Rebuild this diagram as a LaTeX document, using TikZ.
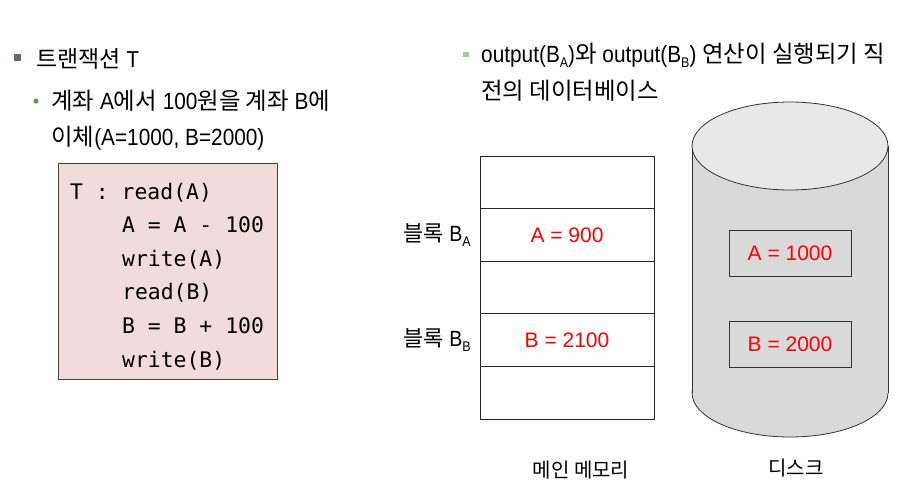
\documentclass[tikz,border=0pt]{standalone}
\usepackage{fontspec}
\setmainfont{Liberation Sans}
\newfontfamily\krfont{Noto Sans CJK KR}
\newfontfamily\mgfont[FakeStretch=0.89]{Liberation Sans}
\newfontfamily\codefont{DejaVu Sans Mono}
\usepackage{xcolor}
\usetikzlibrary{positioning}
\definecolor{codepink}{HTML}{F2DCDB}
\definecolor{bulletmauve}{HTML}{76606E}
\definecolor{bulletgreen}{HTML}{6B8E5A}
\definecolor{bulletmint}{HTML}{A8C8A0}
\definecolor{cylgray}{HTML}{D9D9D9}
\definecolor{cyltopgray}{HTML}{E8E8E8}
\newcommand\lowsub[1]{\raisebox{-0.2em}{\fontsize{14}{14}\selectfont #1}}
\tikzset{
  txt/.style     = {anchor=base west, inner sep=0pt, font=\mgfont\fontsize{23.4}{28}\selectfont},
  titletxt/.style= {anchor=base west, inner sep=0pt, font=\mgfont\fontsize{23}{28}\selectfont},
  codeline/.style= {anchor=base west, inner sep=0pt, font=\codefont\fontsize{21.4}{25}\selectfont},
  codebox/.style = {draw=black!75, line width=0.9pt, fill=codepink,
                    minimum width=219pt, minimum height=216pt},
  cell/.style    = {draw=black!85, line width=0.9pt, minimum width=174pt,
                    minimum height=52.6pt, outer sep=0pt, inner sep=0pt,
                    text=red, font=\fontsize{21}{25}\selectfont},
  diskcell/.style= {draw=black!80, line width=0.8pt, minimum width=122pt,
                    minimum height=46pt, outer sep=0pt, inner sep=0pt,
                    text=red, font=\fontsize{21}{25}\selectfont},
  blklbl/.style  = {inner sep=0pt, font=\mgfont\fontsize{22}{26}\selectfont},
  caption/.style = {inner sep=0pt, font=\krfont\fontsize{20}{24}\selectfont},
  cylline/.style = {draw=black!80, line width=0.8pt},
}
\begin{document}
\begin{tikzpicture}[x=1pt, y=-1pt]
  \useasboundingbox (0,0) rectangle (920,503);
  % left column
  \fill[bulletmauve] (14,54) rectangle (21,61);
  \node[titletxt] (title) at (36,67) {{\krfont 트랜잭션} T};
  \fill[bulletgreen] (36,101) circle (2.6);
  \node[txt] (task1) at (51,109) {{\krfont 계좌} A{\krfont 에서} 100{\krfont 원을 계좌} B{\krfont 에}};
  \node[txt] (task2) at (51,145) {{\krfont 이체}(A=1000, B=2000)};

  \node[codebox] (code) at (167.5,271) {};
  \node[codeline] (c1) at (70,199)    {T : read(A)};
  \node[codeline] (c2) at (122,232.6) {A = A - 100};
  \node[codeline] (c3) at (122,266.2) {write(A)};
  \node[codeline] (c4) at (122,299.8) {read(B)};
  \node[codeline] (c5) at (122,333.4) {B = B + 100};
  \node[codeline] (c6) at (122,367)   {write(B)};

  % right column
  \fill[bulletmint] (463,52) rectangle (469,57.5);
  \node[txt] (note1) at (481,63) {output(B\lowsub{A}){\krfont 와} output(B\lowsub{B}) {\krfont 연산이 실행되기 직}};
  \node[txt] (note2) at (481,99) {{\krfont 전의 데이터베이스}};

  % main memory
  \node[cell] (m1) at (567,182.3) {};
  \node[cell, below=0pt of m1] (m2) {A = 900};
  \node[cell, below=0pt of m2] (m3) {};
  \node[cell, below=0pt of m3] (m4) {B = 2100};
  \node[cell, below=0pt of m4] (m5) {};
  \node[blklbl, left=9pt of m2] (lba) {{\krfont 블록} B\lowsub{A}};
  \node[blklbl, left=9pt of m4] (lbb) {{\krfont 블록} B\lowsub{B}};
  \node[caption] (memcap) at (581,470) {메인 메모리};

  % disk
  \coordinate (cyltop) at (790,146);
  \coordinate (cylbot) at (790,393);
  \filldraw[cylline, fill=cylgray] (cylbot) ellipse (98 and 44);
  \fill[cylgray] (692,146) rectangle (888,393);
  \draw[cylline] (692,146) -- (692,393) (888,146) -- (888,393);
  \filldraw[cylline, fill=cyltopgray] (cyltop) ellipse (98 and 44);
  \node[diskcell] (da) at (790,253) {A = 1000};
  \node[diskcell, below=45pt of da] (db) {B = 2000};
  \node[caption] (diskcap) at (796,468) {디스크};
\end{tikzpicture}
\end{document}
